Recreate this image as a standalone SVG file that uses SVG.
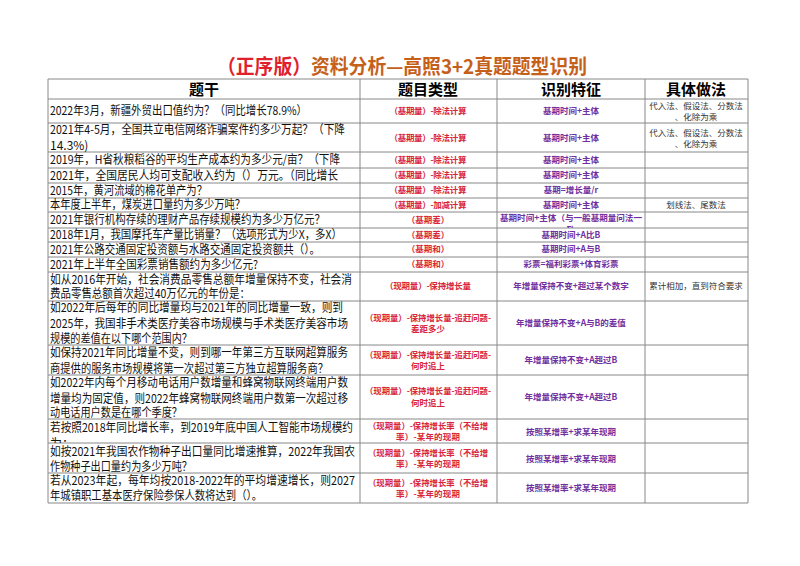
<svg xmlns="http://www.w3.org/2000/svg" width="800" height="566" viewBox="0 0 800 566">
<style>
text{font-family:"Noto Sans CJK SC","Noto Sans",sans-serif}
.t{font-size:20px;fill:#c5601a;text-anchor:middle;font-weight:bold}
.h{font-size:15px;font-weight:bold;fill:#000;text-anchor:middle}
.q{font-size:12px;fill:#111}
.k{font-size:8.5px;font-weight:bold;fill:#d9263a;text-anchor:middle}
.f{font-size:8.5px;font-weight:bold;fill:#7030a0;text-anchor:middle}
.m{font-size:8.5px;fill:#333;text-anchor:middle}
.g line{stroke:#888;stroke-width:1}
</style>
<defs>
<clipPath id="c7"><rect x="497" y="212" width="148" height="16"/></clipPath>
<clipPath id="c15"><rect x="48" y="419" width="312" height="24"/></clipPath>
</defs>
<rect width="800" height="566" fill="#fff"/>
<text class="t" x="402" y="74" textLength="370" lengthAdjust="spacingAndGlyphs"><tspan fill="#e0202a">（正序版）</tspan>资料分析—高照3+2真题题型识别</text>
<g id="grid" class="g">
<line x1="48" y1="79" x2="748" y2="79"/>
<line x1="48" y1="99" x2="748" y2="99"/>
<line x1="48" y1="123" x2="748" y2="123"/>
<line x1="48" y1="152" x2="748" y2="152"/>
<line x1="48" y1="168" x2="748" y2="168"/>
<line x1="48" y1="183" x2="748" y2="183"/>
<line x1="48" y1="198" x2="748" y2="198"/>
<line x1="48" y1="212" x2="748" y2="212"/>
<line x1="48" y1="228" x2="748" y2="228"/>
<line x1="48" y1="242" x2="748" y2="242"/>
<line x1="48" y1="257" x2="748" y2="257"/>
<line x1="48" y1="272" x2="748" y2="272"/>
<line x1="48" y1="301" x2="748" y2="301"/>
<line x1="48" y1="345" x2="748" y2="345"/>
<line x1="48" y1="375" x2="748" y2="375"/>
<line x1="48" y1="419" x2="748" y2="419"/>
<line x1="48" y1="443" x2="748" y2="443"/>
<line x1="48" y1="473" x2="748" y2="473"/>
<line x1="48" y1="503" x2="748" y2="503"/>
<line x1="48" y1="79" x2="48" y2="503"/>
<line x1="360" y1="79" x2="360" y2="503"/>
<line x1="497" y1="79" x2="497" y2="503"/>
<line x1="645" y1="79" x2="645" y2="503"/>
<line x1="748" y1="79" x2="748" y2="503"/>
</g>
<g id="header">
<text class="h" x="204" y="95">题干</text>
<text class="h" x="428" y="95">题目类型</text>
<text class="h" x="571" y="95">识别特征</text>
<text class="h" x="696" y="95">具体做法</text>
</g>
<g id="r1"><text class="q" x="50" y="115" textLength="257" lengthAdjust="spacingAndGlyphs">2022年3月，新疆外贸出口值约为？（同比增长78.9%）</text>
<text class="k" x="428" y="114" textLength="77">（基期量）-除法计算</text><text class="f" x="571" y="114">基期时间+主体</text>
<text class="m" x="696" y="109">代入法、假设法、分数法</text><text class="m" x="696" y="120">、化除为乘</text></g>
<g id="r2"><text class="q" x="50" y="134" textLength="295" lengthAdjust="spacingAndGlyphs">2021年4-5月，全国共立电信网络诈骗案件约多少万起？（下降</text><text class="q" x="50" y="150">14.3%)</text>
<text class="k" x="428" y="141" textLength="77">（基期量）-除法计算</text><text class="f" x="571" y="141">基期时间+主体</text>
<text class="m" x="696" y="136">代入法、假设法、分数法</text><text class="m" x="696" y="147">、化除为乘</text></g>
<g id="r3"><text class="q" x="50" y="164" textLength="290" lengthAdjust="spacingAndGlyphs">2019年，H省秋粮稻谷的平均生产成本约为多少元/亩？（下降</text>
<text class="k" x="428" y="163" textLength="77">（基期量）-除法计算</text><text class="f" x="571" y="163">基期时间+主体</text></g>
<g id="r4"><text class="q" x="50" y="180" textLength="288" lengthAdjust="spacingAndGlyphs">2021年，全国居民人均可支配收入约为（）万元。（同比增长</text>
<text class="k" x="428" y="178" textLength="77">（基期量）-除法计算</text><text class="f" x="571" y="178">基期时间+主体</text></g>
<g id="r5"><text class="q" x="50" y="195" textLength="157" lengthAdjust="spacingAndGlyphs">2015年，黄河流域的棉花单产为？</text>
<text class="k" x="428" y="193" textLength="77">（基期量）-除法计算</text><text class="f" x="571" y="193">基期=增长量/r</text></g>
<g id="r6"><text class="q" x="50" y="209" textLength="195" lengthAdjust="spacingAndGlyphs">本年度上半年，煤炭进口量约为多少万吨？</text>
<text class="k" x="428" y="208" textLength="77">（基期量）-加减计算</text><text class="f" x="571" y="208">基期时间+主体</text>
<text class="m" x="696" y="208">划线法、尾数法</text></g>
<g id="r7"><text class="q" x="50" y="224" textLength="275" lengthAdjust="spacingAndGlyphs">2021年银行机构存续的理财产品存续规模约为多少万亿元？</text>
<text class="k" x="428" y="223">（基期差）</text>
<g clip-path="url(#c7)"><text class="f" x="571" y="221" textLength="142" lengthAdjust="spacingAndGlyphs">基期时间+主体（与一般基期量问法一</text><text class="f" x="571" y="233">致</text></g></g>
<g id="r8"><text class="q" x="50" y="239" textLength="292" lengthAdjust="spacingAndGlyphs">2018年1月，我国摩托车产量比销量？（选项形式为少X，多X）</text>
<text class="k" x="428" y="238">（基期差）</text><text class="f" x="571" y="238">基期时间+A比B</text></g>
<g id="r9"><text class="q" x="50" y="254" textLength="270" lengthAdjust="spacingAndGlyphs">2021年公路交通固定投资额与水路交通固定投资额共（）。</text>
<text class="k" x="428" y="252">（基期和）</text><text class="f" x="571" y="252">基期时间+A与B</text></g>
<g id="r10"><text class="q" x="50" y="269" textLength="208" lengthAdjust="spacingAndGlyphs">2021年上半年全国彩票销售额约为多少亿元?</text>
<text class="k" x="428" y="267">（基期和）</text><text class="f" x="571" y="267">彩票=福利彩票+体育彩票</text></g>
<g id="r11"><text class="q" x="50" y="284" textLength="302" lengthAdjust="spacingAndGlyphs">如从2016年开始，社会消费品零售总额年增量保持不变，社会消</text><text class="q" x="50" y="298" textLength="200" lengthAdjust="spacingAndGlyphs">费品零售总额首次超过40万亿元的年份是：</text>
<text class="k" x="428" y="289" textLength="86">（现期量）-保持增长量</text><text class="f" x="571" y="289">年增量保持不变+超过某个数字</text>
<text class="m" x="696" y="289">累计相加，直到符合要求</text></g>
<g id="r12"><text class="q" x="50" y="312" textLength="293" lengthAdjust="spacingAndGlyphs">如2022年后每年的同比增量均与2021年的同比增量一致，则到</text><text class="q" x="50" y="328" textLength="298" lengthAdjust="spacingAndGlyphs">2025年，我国非手术类医疗美容市场规模与手术类医疗美容市场</text><text class="q" x="50" y="343" textLength="142" lengthAdjust="spacingAndGlyphs">规模的差值在以下哪个范围内？</text>
<text class="k" x="428" y="321" textLength="126" lengthAdjust="spacingAndGlyphs">（现期量）-保持增长量-追赶问题-</text><text class="k" x="428" y="332">差距多少</text>
<text class="f" x="571" y="326">年增量保持不变+A与B的差值</text></g>
<g id="r13"><text class="q" x="50" y="357" textLength="298" lengthAdjust="spacingAndGlyphs">如保持2021年同比增量不变，则到哪一年第三方互联网超算服务</text><text class="q" x="50" y="373" textLength="278" lengthAdjust="spacingAndGlyphs">商提供的服务市场规模将第一次超过第三方独立超算服务商？</text>
<text class="k" x="428" y="358" textLength="126" lengthAdjust="spacingAndGlyphs">（现期量）-保持增长量-追赶问题-</text><text class="k" x="428" y="369">何时追上</text>
<text class="f" x="571" y="363">年增量保持不变+A超过B</text></g>
<g id="r14"><text class="q" x="50" y="387" textLength="298" lengthAdjust="spacingAndGlyphs">如2022年内每个月移动电话用户数增量和蜂窝物联网终端用户数</text><text class="q" x="50" y="403" textLength="298" lengthAdjust="spacingAndGlyphs">增量均为固定值，则2022年蜂窝物联网终端用户数第一次超过移</text><text class="q" x="50" y="417" textLength="132" lengthAdjust="spacingAndGlyphs">动电话用户数是在哪个季度？</text>
<text class="k" x="428" y="394" textLength="126" lengthAdjust="spacingAndGlyphs">（现期量）-保持增长量-追赶问题-</text><text class="k" x="428" y="406">何时追上</text>
<text class="f" x="571" y="400">年增量保持不变+A超过B</text></g>
<g id="r15"><g clip-path="url(#c15)"><text class="q" x="50" y="432" textLength="303" lengthAdjust="spacingAndGlyphs">若按照2018年同比增长率，到2019年底中国人工智能市场规模约</text><text class="q" x="50" y="448">为：</text></g>
<text class="k" x="428" y="429" textLength="120" lengthAdjust="spacingAndGlyphs">（现期量）-保持增长率（不给增</text><text class="k" x="428" y="440" textLength="64">率）-某年的现期</text>
<text class="f" x="571" y="435">按照某增率+求某年现期</text></g>
<g id="r16"><text class="q" x="50" y="456" textLength="305" lengthAdjust="spacingAndGlyphs">如按2021年我国农作物种子出口量同比增速推算，2022年我国农</text><text class="q" x="50" y="471" textLength="142" lengthAdjust="spacingAndGlyphs">作物种子出口量约为多少万吨？</text>
<text class="k" x="428" y="456" textLength="120" lengthAdjust="spacingAndGlyphs">（现期量）-保持增长率（不给增</text><text class="k" x="428" y="467" textLength="64">率）-某年的现期</text>
<text class="f" x="571" y="462">按照某增率+求某年现期</text></g>
<g id="r17"><text class="q" x="50" y="485" textLength="305" lengthAdjust="spacingAndGlyphs">若从2023年起，每年均按2018-2022年的平均增速增长，则2027</text><text class="q" x="50" y="500" textLength="212" lengthAdjust="spacingAndGlyphs">年城镇职工基本医疗保险参保人数将达到（）。</text>
<text class="k" x="428" y="486" textLength="120" lengthAdjust="spacingAndGlyphs">（现期量）-保持增长率（不给增</text><text class="k" x="428" y="497" textLength="64">率）-某年的现期</text>
<text class="f" x="571" y="491">按照某增率+求某年现期</text></g>
</svg>
